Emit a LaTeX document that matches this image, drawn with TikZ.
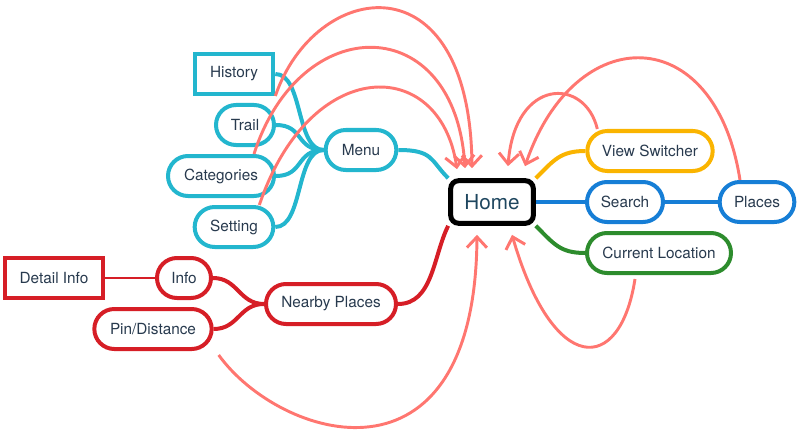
\documentclass[tikz,border=0pt]{standalone}
\usepackage{fontspec}
\setmainfont{TeX Gyre Heros}
\usetikzlibrary{arrows.meta,backgrounds,calc}
\definecolor{mapcyan}{RGB}{35,182,206}
\definecolor{maporange}{RGB}{250,180,0}
\definecolor{mapblue}{RGB}{22,126,214}
\definecolor{mapgreen}{RGB}{45,140,45}
\definecolor{mapred}{RGB}{214,30,38}
\definecolor{salmon}{RGB}{255,118,112}
\definecolor{txt}{RGB}{40,58,78}

\begin{document}
\begin{tikzpicture}[x=0.75pt,y=-0.75pt,
    pill/.style={draw, line width=3pt, fill=white, rounded corners=15pt, minimum height=30pt, inner sep=0pt, text=txt, font=\fontsize{11.5}{13}\selectfont},
    boxed/.style={pill, sharp corners},
    branch/.style={line width=3pt},
    jump/.style={salmon, line width=2.2pt, -{Straight Barb[length=8pt,width=15pt]}}]
        \useasboundingbox (0,0) rectangle (800,435);

        % left side: menu
        \node[boxed, draw=mapcyan, minimum width=59pt] (hist) at (234,74) {History};
        \node[pill, draw=mapcyan, minimum width=43.5pt] (trail) at (245,125) {Trail};
        \node[pill, draw=mapcyan, minimum width=79.5pt] (cat) at (221,176) {Categories};
        \node[pill, draw=mapcyan, minimum width=59pt] (set) at (234,227) {Setting};
        \node[pill, draw=mapcyan, minimum width=53pt] (menu) at (361,150) {Menu};

        \node[draw, line width=3.75pt, rounded corners=6pt, fill=white, minimum width=62pt, minimum height=32pt, text={rgb,255:red,30;green,70;blue,95}, font=\fontsize{15.5}{18}\selectfont] (home) at (492,202) {Home};

        % right side
        \node[pill, draw=maporange, minimum width=94pt] (view) at (650,151) {View Switcher};
        \node[pill, draw=mapblue, minimum width=57pt] (search) at (625,202) {Search};
        \node[pill, draw=mapblue, minimum width=56pt] (places) at (757,202) {Places};
        \node[pill, draw=mapgreen, minimum width=108pt] (loc) at (659,253) {Current Location};

        % nearby places
        \node[pill, draw=mapred, minimum width=97.5pt] (near) at (331,304) {Nearby Places};
        \node[pill, draw=mapred, minimum width=40.5pt] (info) at (184,278) {Info};
        \node[pill, draw=mapred, minimum width=88pt] (pin) at (153,329) {Pin/Distance};
        \node[boxed, draw=mapred, minimum width=74pt] (detail) at (54,278) {Detail Info};

        \begin{scope}[on background layer]
            \foreach \kid in {hist,trail,cat,set}
                \draw[branch, mapcyan] (\kid.east) .. controls +(28,0) and +(-28,0) .. (menu.west);
            \draw[branch, mapcyan] (menu.east) .. controls +(35,0) and +(-18,-18) .. (home.north west);
            \draw[branch, maporange] (home.north east) .. controls +(18,-18) and +(-25,0) .. (view.west);
            \draw[branch, mapblue] (home) -- (search) -- (places);
            \draw[branch, mapgreen] (home.south east) .. controls +(18,18) and +(-25,0) .. (loc.west);
            \draw[branch, mapred] (near.east) .. controls +(35,0) and +(-15,30) .. (home.south west);
            \foreach \kid in {info,pin}
                \draw[branch, mapred] (\kid.east) .. controls +(25,0) and +(-25,0) .. (near.west);
            \draw[mapred, line width=1.5pt] (detail) -- (info);
        \end{scope}

        % jumps back home
        \draw[jump] (hist.south east) .. controls (315,-20) and (470,-45) .. ($(home.north)+(-20,-10)$);
        \draw[jump] ($(cat.north east)+(-22,0)$) .. controls (300,10) and (455,10) .. ($(home.north)+(-27,-10)$);
        \draw[jump] ($(set.north east)+(-16,0)$) .. controls (310,55) and (440,55) .. ($(home.north)+(-35,-9)$);
        \draw[jump] ($(view.north west)+(12,0)$) .. controls (585,77) and (515,77) .. ($(home.north)+(16,-12)$);
        \draw[jump] ($(places.north)+(-17,0)$) .. controls (715,20) and (575,20) .. ($(home.north)+(33,-12)$);
        \draw[jump] ($(loc.south)+(-24,4)$) .. controls (620,376) and (553,376) .. ($(home.south)+(20,9)$);
        \draw[jump] ($(pin.south east)+(5,4)$) .. controls (280,440) and (475,500) .. ($(home.south)+(-15,9)$);
    \end{tikzpicture}
\end{document}
